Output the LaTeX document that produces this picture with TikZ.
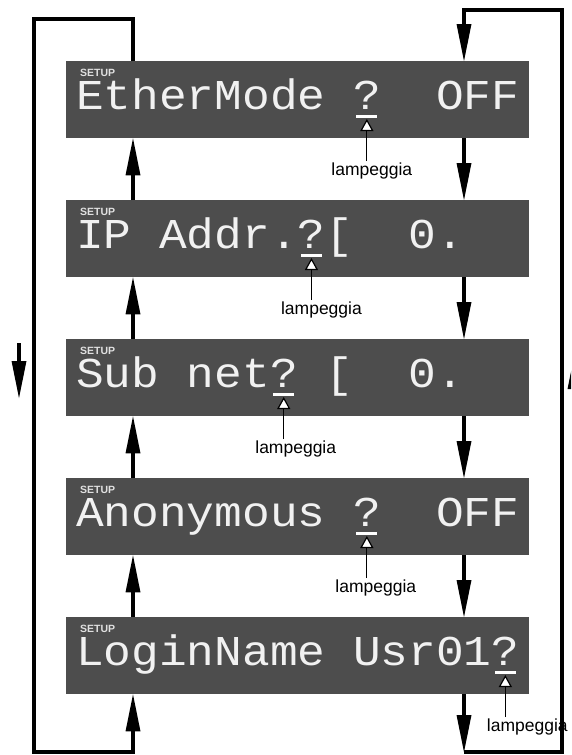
\documentclass[tikz,border=0pt]{standalone}
\usepackage{fontspec}
\setmainfont{Liberation Sans}
\newfontfamily\lcdfont[FakeStretch=1.086]{Liberation Mono}
\usetikzlibrary{arrows.meta}
\definecolor{lcdgray}{HTML}{4D4D4D}
\definecolor{setupgray}{HTML}{E0E0E0}

\begin{document}
\begin{tikzpicture}[x=1pt,y=-1pt,
    lcd/.style={fill=lcdgray,minimum width=463pt,minimum height=77pt,inner sep=0pt,anchor=north west},
    setup/.style={anchor=west,inner sep=0pt,text=setupgray,font=\fontsize{10.5}{12}\selectfont\bfseries},
    lcdtext/.style={anchor=base west,inner sep=0pt,text height=28pt,text depth=0pt,text=white!92!lcdgray,font=\fontsize{42.5}{44}\lcdfont\frenchspacing},
    blinklabel/.style={anchor=base,inner sep=1pt,font=\fontsize{17.5}{19}\selectfont},
    cursor/.style={white,line width=3pt},
    blink/.style={line width=1.2pt,-{Triangle[length=12pt,width=13pt,fill=white]}},
    flow/.style={line width=4.5pt,-{Triangle[length=37pt,width=15pt,line width=0pt]}}]
    \clip (0,0) rectangle (571,755);
    % Columns
    \coordinate (lc) at (133,0);
    \coordinate (rc) at (464,0);
    % Displays
    \foreach \n/\txt/\q/\dx in {1/{EtherMode ?~~OFF}/10/5,
                                2/{IP Addr.?[~~0.}/8/10,
                                3/{Sub net? [~~0.}/7/12,
                                4/{Anonymous ?~~OFF}/10/9,
                                5/{LoginName Usr01?}/15/22} {
      \node[lcd] (d\n) at (66,{61+139*(\n-1)}) {};
      \node[setup] at ([shift={(14,12)}]d\n.north west) {SETUP};
      \node[lcdtext] (t\n) at ([shift={(10,48)}]d\n.north west) {\txt};
      % Blinking cursor
      \coordinate (c\n) at ([shift={({23.85+27.7*\q},55)}]d\n.north west);
      \draw[cursor] ([xshift=-10.5pt]c\n) -- ([xshift=10.5pt]c\n);
      \node[blinklabel] (l\n) at ([shift={(\dx,59)}]c\n) {lampeggia};
      \draw[blink] (l\n.north -| c\n) -- ([yshift=-3pt]c\n);
    }
    % Arrows
    \foreach \n [count=\m from 2] in {1,...,4} {
      \draw[flow] (d\m.north -| lc) -- (d\n.south -| lc);
      \draw[flow] (d\n.south -| rc) -- (d\m.north -| rc);
    }
    % Loops
    \coordinate (ltop) at (34,19);
    \coordinate (lbot) at (133,752);
    \draw[flow] (d1.north -| lc) |- (ltop) |- (lbot) -- (d5.south -| lc);
    \coordinate (rbot) at (464,752);
    \coordinate (rtop) at (562,10);
    \draw[flow] (d5.south -| rc) -- (rbot);
    \draw[flow] (rbot) -| (rtop) -| (d1.north -| rc);
    % Side arrows
    \coordinate (sa) at (19,343);
    \coordinate (sb) at (19,398);
    \draw[flow] (sa) -- (sb);
    \coordinate (sc) at (575,404);
    \coordinate (sd) at (575,352);
    \draw[flow] (sc) -- (sd);
\end{tikzpicture}
\end{document}
